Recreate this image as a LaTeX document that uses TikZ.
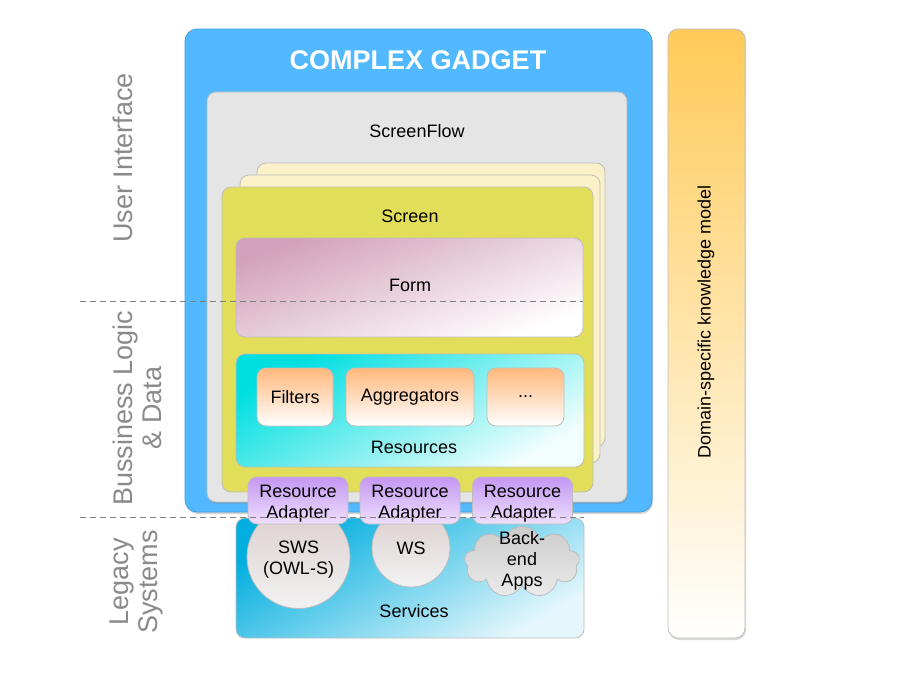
\documentclass[tikz,border=0pt]{standalone}
\usepackage{fontspec}
\setmainfont{Liberation Sans}
\usetikzlibrary{positioning,calc,shapes.symbols,shadows}
\definecolor{gadgetblue}{HTML}{52B8FF}
\definecolor{flowgray}{HTML}{E5E5E5}
\definecolor{boxline}{HTML}{BDBDBD}
\definecolor{pagecream}{HTML}{FAF1C8}
\definecolor{screenyellow}{HTML}{E3DE5A}
\definecolor{formpink}{HTML}{D3A2BA}
\definecolor{rescyan}{HTML}{00DFE0}
\definecolor{partorange}{HTML}{FFB87C}
\definecolor{adapterpurple}{HTML}{C597F3}
\definecolor{servblue}{HTML}{00AEDF}
\definecolor{modelorange}{HTML}{FFCA58}
\definecolor{layergray}{HTML}{8A8A8A}
\tikzset{
  figfont/.style={font=\fontsize{18}{21}\selectfont},
  figbox/.style={draw=boxline, rounded corners=9pt, line width=0.8pt, inner sep=0pt, align=center},
  figgadget/.style={figbox, draw=gadgetblue!85!black, fill=gadgetblue, rounded corners=12pt,
    drop shadow={shadow xshift=1pt, shadow yshift=-2pt, opacity=0.35}},
  figflow/.style={figbox, fill=flowgray, drop shadow={shadow xshift=1pt, shadow yshift=-2pt, opacity=0.3}},
  figpage/.style={figbox, fill=pagecream},
  figscreen/.style={figbox, fill=screenyellow},
  figform/.style={figbox, top color=formpink, bottom color=white, shading angle=20},
  figres/.style={figbox, top color=rescyan, bottom color=white!95!rescyan, shading angle=30},
  figpart/.style={figbox, top color=partorange, bottom color=white, minimum height=58pt},
  figadapter/.style={figbox, top color=adapterpurple, bottom color=adapterpurple!30, minimum width=100pt, minimum height=47pt},
  figserv/.style={figbox, top color=servblue, bottom color=white!90!servblue, shading angle=30},
  figcircle/.style={circle, draw=boxline, line width=0.8pt, top color=black!15!white!95!red, bottom color=black!5, inner sep=0pt, align=center},
  figcloud/.style={cloud, cloud puffs=9, aspect=1.6, draw=boxline, line width=0.8pt, top color=black!20, bottom color=black!8, inner sep=0pt},
  figmodel/.style={figbox, top color=modelorange, bottom color=white, rounded corners=10pt,
    drop shadow={shadow xshift=1pt, shadow yshift=-2pt, opacity=0.3}},
  layerline/.style={dashed, dash pattern=on 6pt off 4pt, draw=black!50, line width=0.9pt},
  layertext/.style={text=layergray, font=\fontsize{27}{29}\selectfont, rotate=90, align=center},
}

\begin{document}
\begin{tikzpicture}[x=1pt, y=-1pt, figfont]
  \useasboundingbox (0,0) rectangle (904,672);

  % Knowledge model on the right
  \node[figmodel, minimum width=77pt, minimum height=609pt] (model) at (706.5,333.5) {};
  \node[rotate=90] (modeltext) at (706,322) {Domain-specific knowledge model};

  % Complex gadget and screenflow
  \node[figgadget, minimum width=467pt, minimum height=483pt] (gadget) at (418.5,270.5) {};
  \node[text=white, font=\fontsize{27}{30}\selectfont\bfseries] (gadgettitle) at (418,60) {COMPLEX GADGET};
  \node[figflow, minimum width=420pt, minimum height=410pt] (flow) at (417,297) {};
  \node (flowtitle) at (417,131) {ScreenFlow};

  % Stacked screens
  \node[figpage, minimum width=348pt, minimum height=284pt] (pageb) at (431,305) {};
  \node[figpage, minimum width=360pt, minimum height=288pt] (pagea) at (420,319) {};
  \node[figscreen, minimum width=371pt, minimum height=305pt] (screen) at (407.5,339.5) {};
  \node (screentitle) at (410,216) {Screen};

  % Form and resources
  \node[figform, minimum width=347pt, minimum height=99pt] (form) at (409.5,287.5) {};
  \node (formtitle) at (410,285) {Form};
  \node[figres, minimum width=348pt, minimum height=113pt] (res) at (410,410.5) {};
  \node (restitle) at (414,447) {Resources};
  \node[figpart, minimum width=76pt] (filters) at (295,397) {Filters};
  \node[figpart, minimum width=128pt] (aggr) at (410,397) {Aggregators};
  \node[figpart, minimum width=77pt] (more) at (525.5,397) {...};

  % Services
  \node[figserv, minimum width=348pt, minimum height=120pt] (serv) at (410,578) {};
  \node (servtitle) at (414,611) {Services};
  \node[figcircle, minimum size=103pt] (sws) at (298.5,557) {\\[-3pt]SWS\\(OWL-S)};
  \node[figcircle, minimum size=78pt] (ws) at (411,548) {WS};
  \node[figcloud, minimum width=115pt, minimum height=71pt] (apps) at (522,562) {};
  \node[align=center] (appstext) at (522,561) {Back-\\end\\Apps};

  % Resource adapters
  \node[figadapter, label={[align=center, yshift=-3pt]center:Resource\\Adapter}] (adsws) at (298,500.5) {};
  \node[figadapter, label={[align=center, yshift=-3pt]center:Resource\\Adapter}] (adws) at (410,500.5) {};
  \node[figadapter, label={[align=center, yshift=-3pt]center:Resource\\Adapter}] (adapps) at (522.5,500.5) {};

  % Layer borders
  \coordinate (uileft) at (80,301);
  \coordinate (logicleft) at (80,517);
  \draw[layerline] (uileft) -- (uileft -| form.east);
  \draw[layerline] (logicleft) -- (logicleft -| serv.east);

  % Layer names
  \node[layertext] (uilayer) at (123,158) {User Interface};
  \node[layertext] (logiclayer) at (137,408) {Bussiness Logic\\\& Data};
  \node[layertext] (legacylayer) at (137,582) {Legacy\\Systems};
\end{tikzpicture}
\end{document}
